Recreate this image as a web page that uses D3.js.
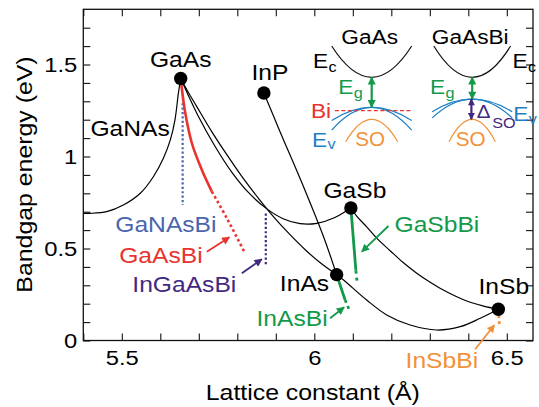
<!DOCTYPE html>
<html><head><meta charset="utf-8">
<script src="https://cdn.jsdelivr.net/npm/d3@7"></script>
<style>
html,body{margin:0;padding:0;background:#fff;}
svg{display:block;font-family:"Liberation Sans",Arial,Helvetica,sans-serif;}
</style></head><body>
<svg id="chart" width="539" height="407"></svg>
<script>
// ---- Binary compounds: lattice constant (Å) and bandgap (eV) ----
const binaryNames   = ["GaAs", "InP", "GaSb", "InAs", "InSb"];
const binaryLattice = [5.653, 5.869, 6.095, 6.058, 6.478];
const binaryGap     = [1.424, 1.345, 0.720, 0.358, 0.170];

// ---- Ternary alloy curves, [lattice (Å), gap (eV)] ----
const gaNAsCurve = [[5.400,0.691],[5.418,0.691],[5.461,0.700],[5.504,0.736],[5.548,0.800],
  [5.582,0.890],[5.608,0.990],[5.626,1.090],[5.638,1.198],[5.647,1.344],[5.653,1.424]];
const gaAsSbCurve = [[5.653,1.424],[5.675,1.322],[5.697,1.226],[5.742,1.056],[5.786,0.914],
  [5.830,0.802],[5.875,0.718],[5.919,0.662],[5.963,0.635],[6.007,0.637],[6.052,0.667],[6.095,0.720]];
const inGaAsCurve = [[5.653,1.424],[5.673,1.348],[5.694,1.274],[5.734,1.134],[5.775,1.003],
  [5.815,0.882],[5.856,0.770],[5.896,0.668],[5.937,0.575],[5.977,0.492],[6.018,0.418],[6.058,0.358]];
const inAsPCurve = [[5.869,1.345],[5.911,1.135],[5.972,0.836],[6.024,0.564],[6.058,0.358]];
const inAsSbCurve = [[6.058,0.358],[6.076,0.329],[6.136,0.220],[6.188,0.139],[6.249,0.084],
  [6.318,0.057],[6.379,0.075],[6.431,0.121],[6.478,0.170]];
const gaInSbCurve = [[6.095,0.720],[6.110,0.676],[6.136,0.618],[6.166,0.548],[6.197,0.488],
  [6.230,0.425],[6.266,0.366],[6.300,0.318],[6.335,0.274],[6.370,0.238],[6.405,0.208],
  [6.440,0.187],[6.478,0.170]];

// ---- Bismide alloys: measured (solid) and projected (dotted) ----
const gaAsBiSolid  = [[5.653,1.424],[5.664,1.247],[5.682,1.072],[5.708,0.927],[5.734,0.809]];
const gaAsBiDotted = [[5.734,0.809],[5.773,0.664],[5.820,0.474]];
const gaNAsBiDotted   = [[5.658,1.290],[5.658,0.736]];
const inGaAsBiDotted  = [[5.874,0.690],[5.874,0.410]];
const gaSbBiSolid  = [[6.095,0.720],[6.108,0.380]];
const gaSbBiDotted = [[6.108,0.380],[6.111,0.320]];
const inAsBiSolid  = [[6.058,0.358],[6.080,0.220]];
const inAsBiDotted = [[6.080,0.220],[6.091,0.165]];
const inSbBiDotted = [[6.478,0.170],[6.481,0.080]];

// ---- Axis ticks ----
const xTickLabels = [5.5, 6, 6.5];
const yTickLabels = [0, 0.5, 1, 1.5];
const xMinorTicks = [5.4,5.5,5.6,5.7,5.8,5.9,6.0,6.1,6.2,6.3,6.4,6.5];
const yMinorTicks = [0,0.1,0.2,0.3,0.4,0.5,0.6,0.7,0.8,0.9,1.0,1.1,1.2,1.3,1.4,1.5,1.6,1.7];

// ---- Inset band schematic (energies relative to GaAs valence-band top, eV) ----
const insetPanels = ["GaAs", "GaAsBi"];
const insetCB     = [[1.42, 2.90, 1.00], [1.42, 2.90, 0.96]];   // [apex, edge, half-width k]
const insetVBLight= [[0.00,-0.62, 1.00], [0.39,-0.21, 1.00]];
const insetVBHeavy= [[0.00,-1.08, 1.00], [0.39,-0.50, 1.00]];
const insetSO     = [[-0.57,-1.63,0.65], [-0.57,-1.63,0.58]];
const insetBiLevel = -0.16;

const svg = d3.select("#chart");
const mLeft = 83.3, mRight = 533, mTop = 9.3, mBottom = 340.5;

const x = d3.scaleLinear().domain([5.4, 6.568]).range([mLeft, mRight]);
const y = d3.scaleLinear().domain([0, 1.8]).range([mBottom, mTop]);

const RED = "#e8332f", GREEN = "#12994a", BLUE = "#4a66ae", PURPLE = "#41297f",
      ORANGE = "#f29138", VBBLUE = "#1f80c4";

// arrowhead markers
const defs = svg.append("defs");
function marker(id, color, w, h) {
  defs.append("marker").attr("id", id)
    .attr("viewBox", "0 0 10 10").attr("refX", 9).attr("refY", 5)
    .attr("markerUnits", "userSpaceOnUse")
    .attr("markerWidth", w).attr("markerHeight", h)
    .attr("orient", "auto-start-reverse")
    .append("path").attr("d", "M0,0 L10,5 L0,10 Z").attr("fill", color);
}
marker("hRed", RED, 10, 8);
marker("hGreen", GREEN, 10, 8);
marker("hPurple", PURPLE, 10, 8);
marker("hOrange", ORANGE, 10, 8);
marker("hGreenI", GREEN, 9, 8);
marker("hPurpleI", PURPLE, 8, 7);

function txt(sel, px, py, s, o = {}) {
  return sel.append("text")
    .attr("transform", `translate(${px},${py}) scale(${o.sx || 1.12},1)`)
    .attr("text-anchor", o.anchor || "middle")
    .attr("font-size", o.size || 22)
    .attr("fill", o.fill || "#000")
    .text(s);
}

// ---- Axes: inward ticks on all four sides ----
const tick = 7;
svg.append("g").attr("transform", `translate(0,${mBottom})`)
  .call(d3.axisBottom(x).tickValues(xMinorTicks).tickSizeInner(-tick).tickSizeOuter(0).tickFormat(""));
svg.append("g").attr("transform", `translate(0,${mTop})`)
  .call(d3.axisTop(x).tickValues(xMinorTicks).tickSizeInner(-tick).tickSizeOuter(0).tickFormat(""));
svg.append("g").attr("transform", `translate(${mLeft},0)`)
  .call(d3.axisLeft(y).tickValues(yMinorTicks).tickSizeInner(-tick).tickSizeOuter(0).tickFormat(""));
svg.append("g").attr("transform", `translate(${mRight},0)`)
  .call(d3.axisRight(y).tickValues(yMinorTicks).tickSizeInner(-tick).tickSizeOuter(0).tickFormat(""));
svg.selectAll(".domain").remove();
svg.selectAll(".tick line").attr("stroke", "#111").attr("stroke-width", 1.1);

// tick labels
const xl = svg.append("g").attr("transform", `translate(0,${mBottom})`)
  .call(d3.axisBottom(x).tickValues(xTickLabels).tickSize(0).tickFormat(d => String(d)));
xl.selectAll("text").attr("y", null).attr("dy", null)
  .attr("transform", "translate(0,24.5) scale(1.22,1)")
  .attr("font-size", 19.5).attr("font-family", null).attr("fill", "#000");
const yl = svg.append("g").attr("transform", `translate(${mLeft},0)`)
  .call(d3.axisLeft(y).tickValues(yTickLabels).tickSize(0).tickFormat(d => String(d)));
yl.selectAll("text").attr("x", null).attr("dy", "0.37em")
  .attr("transform", "translate(-6,0) scale(1.22,1)")
  .attr("font-size", 19.5).attr("font-family", null).attr("fill", "#000");
xl.select(".domain").remove(); yl.select(".domain").remove();

// frame
svg.append("rect").attr("x", mLeft).attr("y", mTop)
  .attr("width", mRight - mLeft).attr("height", mBottom - mTop)
  .attr("fill", "none").attr("stroke", "#111").attr("stroke-width", 1.3);

// axis titles
txt(svg, 312.8, 400, "Lattice constant (Å)", {size: 22, sx: 1.13});
svg.append("text")
  .attr("transform", "translate(31.5,174.5) rotate(-90) scale(1.13,1)")
  .attr("text-anchor", "middle").attr("font-size", 22).attr("fill", "#000")
  .text("Bandgap energy (eV)");

// ---- Curves ----
const line = d3.line().x(d => x(d[0])).y(d => y(d[1])).curve(d3.curveCatmullRom.alpha(0.5));
const straight = d3.line().x(d => x(d[0])).y(d => y(d[1]));
const plot = svg.append("g");
function draw(data, color, width, dash, gen = line) {
  return plot.append("path").datum(data).attr("d", gen)
    .attr("fill", "none").attr("stroke", color).attr("stroke-width", width)
    .attr("stroke-dasharray", dash || null);
}
[gaNAsCurve, gaAsSbCurve, inGaAsCurve, inAsPCurve, inAsSbCurve, gaInSbCurve]
  .forEach(c => draw(c, "#000", 1.2));

draw(gaNAsBiDotted, BLUE, 2.2, "2.2,2.2", straight);
draw(inGaAsBiDotted, PURPLE, 2.2, "2.2,2.2", straight);
draw(gaAsBiSolid, RED, 2.6);
draw(gaAsBiDotted, RED, 2.6, "2.6,2.8");
draw(gaSbBiSolid, GREEN, 2.8, null, straight);
draw(gaSbBiDotted, GREEN, 2.8, "3,4", straight);
draw(inAsBiSolid, GREEN, 2.8, null, straight);
draw(inAsBiDotted, GREEN, 2.8, "3,3.5", straight);
draw(inSbBiDotted, ORANGE, 2.6, "3,3", straight);

// binary compound points
plot.selectAll("circle.bin").data(binaryNames).join("circle")
  .attr("class", "bin")
  .attr("cx", (d, i) => x(binaryLattice[i]))
  .attr("cy", (d, i) => y(binaryGap[i]))
  .attr("r", 6.7).attr("fill", "#000");

// binary labels, offset from each point
const binOffsets = {GaAs: [0, -11, "middle"], InP: [6, -13, "middle"], GaSb: [4, -10, "middle"],
  InAs: [-7.5, 16, "end"], InSb: [5.5, -15, "middle"]};
binaryNames.forEach((n, i) => {
  const o = binOffsets[n];
  txt(svg, x(binaryLattice[i]) + o[0], y(binaryGap[i]) + o[1], n, {anchor: o[2]});
});
txt(svg, x(5.5216), y(1.114), "GaNAs");

// ---- Bismide labels and pointer arrows ----
const bismideLabels = [
  {name: "GaNAsBi",  at: [5.6145, 0.591],  fill: BLUE},
  {name: "GaAsBi",   at: [5.6016, 0.4196], fill: RED,    from: [5.7208, 0.4826], to: [5.7795, 0.5609], head: "hRed"},
  {name: "InGaAsBi", at: [5.6623, 0.2652], fill: PURPLE, from: [5.8117, 0.3652], to: [5.8636, 0.4413], head: "hPurple"},
  {name: "GaSbBi",   at: [6.3184, 0.591],  fill: GREEN,  from: [6.1925, 0.6223], to: [6.1234, 0.4826], head: "hGreen"},
  {name: "InAsBi",   at: [5.9423, 0.0788], fill: GREEN,  from: [6.041, 0.1207],  to: [6.0774, 0.1804], head: "hGreen"},
  {name: "InSbBi",   at: [6.3312, -0.1478],fill: ORANGE, from: [6.4177, -0.0478],to: [6.4678, 0.0842], head: "hOrange"}
];
bismideLabels.forEach(b => {
  txt(svg, x(b.at[0]), y(b.at[1]), b.name, {fill: b.fill});
  if (b.from) {
    svg.append("line")
      .attr("x1", x(b.from[0])).attr("y1", y(b.from[1]))
      .attr("x2", x(b.to[0])).attr("y2", y(b.to[1]))
      .attr("stroke", b.fill).attr("stroke-width", 1.8)
      .attr("marker-end", `url(#${b.head})`);
  }
});

// ---- Inset: band-edge schematic ----
const inset = svg.append("g");
const kx = d3.scaleLinear().domain([-1, 1]).range([-40, 40]);
const ey = d3.scaleLinear().domain([0, 1.42]).range([107.3, 77.3]);
const panelX = [371.7, 472.2];

function band(g, cx, b, color, width) {
  const p = d3.path();
  p.moveTo(cx + kx(-b[2]), ey(b[1]));
  p.quadraticCurveTo(cx + kx(0), ey(2 * b[0] - b[1]), cx + kx(b[2]), ey(b[1]));
  g.append("path").attr("d", p.toString()).attr("fill", "none")
    .attr("stroke", color).attr("stroke-width", width);
}
function dblArrow(g, cx, e0, e1, color, head) {
  g.append("line").attr("x1", cx).attr("x2", cx)
    .attr("y1", ey(e0)).attr("y2", ey(e1))
    .attr("stroke", color).attr("stroke-width", 2.2)
    .attr("marker-start", `url(#${head})`).attr("marker-end", `url(#${head})`);
}

insetPanels.forEach((name, i) => {
  const cx = panelX[i];
  band(inset, cx, insetCB[i], "#111", 1.2);
  band(inset, cx, insetVBLight[i], VBBLUE, 1.2);
  band(inset, cx, insetVBHeavy[i], VBBLUE, 1.2);
  band(inset, cx, insetSO[i], ORANGE, 1.2);
  txt(inset, cx - 2, 44.3, name, {size: 21, sx: 1.08});
  txt(inset, cx - 1.5, 145.7, "SO", {size: 19.5, sx: 1.06, fill: ORANGE});
});
// GaAs panel
inset.append("line")
  .attr("x1", panelX[0] + kx(-0.92)).attr("x2", panelX[0] + kx(1.0))
  .attr("y1", ey(insetBiLevel)).attr("y2", ey(insetBiLevel))
  .attr("stroke", RED).attr("stroke-width", 1.2).attr("stroke-dasharray", "4,2.5");
dblArrow(inset, panelX[0], insetVBLight[0][0], insetCB[0][0], GREEN, "hGreenI");
// GaAsBi panel
dblArrow(inset, panelX[1], insetVBLight[1][0], insetCB[1][0], GREEN, "hGreenI");
dblArrow(inset, panelX[1] - 0.8, insetSO[1][0], insetVBLight[1][0], PURPLE, "hPurpleI");

// inset labels with subscripts
function sub(g, px, py, main, s, fill, o = {}) {
  txt(g, px, py, main, {anchor: "start", fill, size: o.size || 21, sx: 1.08});
  txt(g, px + (o.gap || 15.5), py + (o.drop || 3.5), s, {anchor: "start", fill, size: o.ssize || 15, sx: 1.08});
}
sub(inset, 313, 68.3, "E", "c", "#000");
sub(inset, 512.5, 68.3, "E", "c", "#000");
sub(inset, 338.3, 94.3, "E", "g", GREEN);
sub(inset, 430, 94.3, "E", "g", GREEN);
sub(inset, 312, 146.5, "E", "v", VBBLUE, {drop: 2});
sub(inset, 513.3, 120.7, "E", "v", VBBLUE, {drop: 3});
txt(inset, 311, 118, "Bi", {anchor: "start", fill: RED, size: 21, sx: 1.08});
sub(inset, 476.7, 118.3, "Δ", "SO", PURPLE, {size: 19, gap: 15.5, drop: 9.5});
</script>
</body></html>
